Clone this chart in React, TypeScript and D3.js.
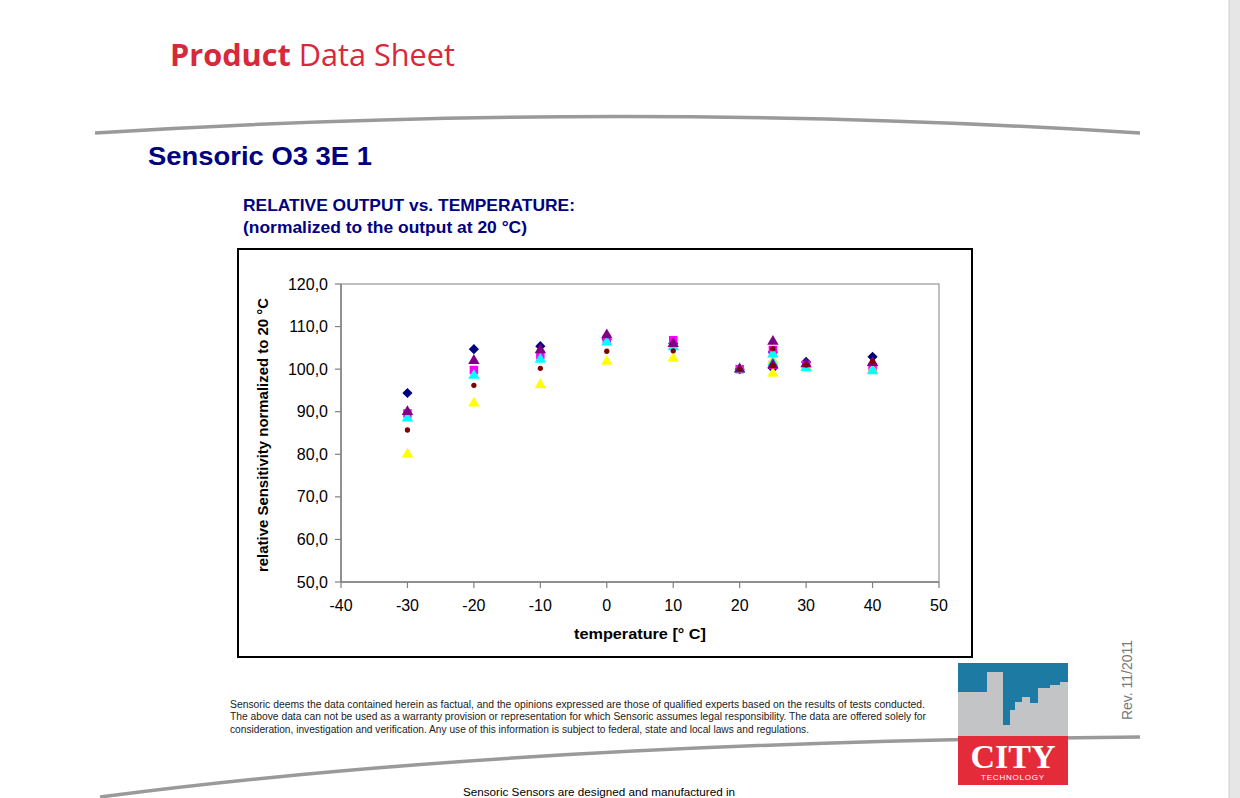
import React from "react";
import * as d3 from "d3";

// temperatures (°C); 25 °C was measured twice
const temps = [-30, -20, -10, 0, 10, 20, 25, 25, 30, 40];

const navyDiamond = [94.4, 104.7, 105.4, 107.0, 106.0, 100.0, 104.0, 100.2, 101.7, 102.9];
const magentaSquare = [89.6, 99.8, 103.3, 107.0, 106.8, 100.0, 104.5, 101.0, 101.0, 100.5];
const yellowTriangle = [80.0, 92.0, 96.3, 101.8, 102.5, 100.0, 102.0, 99.0, 100.5, 99.8];
const cyanTriangle = [88.5, 98.5, 102.3, 106.3, 105.2, 100.0, 103.5, 101.5, 100.3, 99.6];
const purpleTriangle = [90.0, 102.0, 104.5, 108.0, 106.0, 100.0, 106.5, 101.0, 101.2, 101.5];
const darkredCircle = [85.7, 96.2, 100.2, 104.2, 104.3, 100.0, 104.8, 100.8, 101.0, 101.8];

const xTicks = [-40, -30, -20, -10, 0, 10, 20, 30, 40, 50];
const yTicks = [50, 60, 70, 80, 90, 100, 110, 120];

const series = [
  { name: "s1", values: navyDiamond, color: "#000080", shape: "diamond" },
  { name: "s2", values: magentaSquare, color: "#ff00ff", shape: "square" },
  { name: "s3", values: yellowTriangle, color: "#ffff00", shape: "triangle" },
  { name: "s4", values: cyanTriangle, color: "#00ffff", shape: "triangle" },
  { name: "s5", values: purpleTriangle, color: "#800080", shape: "triangle" },
  { name: "s6", values: darkredCircle, color: "#800000", shape: "circle" },
];

const symbolFor: Record<string, [d3.SymbolType, number]> = {
  diamond: [d3.symbolDiamond2, 66],
  square: [d3.symbolSquare, 72],
  triangle: [d3.symbolTriangle, 56],
  circle: [d3.symbolCircle, 22],
};

export default function App() {
  const W = 1240, H = 798;
  const plot = { x0: 341, x1: 939, y0: 284, y1: 582 };
  const x = d3.scaleLinear().domain([-40, 50]).range([plot.x0, plot.x1]);
  const y = d3.scaleLinear().domain([50, 120]).range([plot.y1, plot.y0]);
  const fmt = (v: number) => d3.format(".1f")(v).replace(".", ",");
  const font = "Liberation Sans, Arial, sans-serif";

  const topArc = "M95,133 Q620,100 1140,133";
  const bottomArc = "M100,797 Q520,742 1140,737";

  return (
    <svg width={W} height={H} style={{ position: "absolute", left: 0, top: 0, background: "#fff" }} fontFamily={font}>
      <rect x={0} y={0} width={W} height={H} fill="#fff" />
      <rect x={1229} y={0} width={11} height={H} fill="#e6e6e6" />
      <line x1={1229} y1={0} x2={1229} y2={H} stroke="#cfcfcf" strokeWidth={1} />

      {/* header */}
      <text x={170} y={66} fontSize={31} fill="#d8283b" fontFamily="Open Sans, Lato, sans-serif" textLength={285} lengthAdjust="spacingAndGlyphs">
        <tspan fontWeight="bold">Product</tspan>
        <tspan> Data Sheet</tspan>
      </text>
      <path d={topArc} fill="none" stroke="#9a9a9a" strokeWidth={3.5} />
      <text x={148} y={165} fontSize={25} fontWeight="bold" fill="#000080" textLength={224} lengthAdjust="spacingAndGlyphs">Sensoric O3 3E 1</text>

      <text x={243} y={211} fontSize={16.5} fontWeight="bold" fill="#000080" textLength={332} lengthAdjust="spacingAndGlyphs">RELATIVE OUTPUT vs. TEMPERATURE:</text>
      <text x={243} y={233} fontSize={16.5} fontWeight="bold" fill="#000080" textLength={284} lengthAdjust="spacingAndGlyphs">(normalized to the output at 20 °C)</text>

      {/* chart frame */}
      <rect x={238} y={249} width={734} height={408} fill="#fff" stroke="#000" strokeWidth={2} />
      <rect x={plot.x0} y={plot.y0} width={plot.x1 - plot.x0} height={plot.y1 - plot.y0} fill="#fff" stroke="#808080" strokeWidth={1} />

      {/* y axis */}
      <line x1={plot.x0} y1={plot.y0} x2={plot.x0} y2={plot.y1} stroke="#808080" strokeWidth={1.5} />
      {yTicks.map((t) => (
        <g key={"y" + t}>
          <line x1={plot.x0 - 6} x2={plot.x0} y1={y(t)} y2={y(t)} stroke="#808080" strokeWidth={1.2} />
          <text x={plot.x0 - 13} y={y(t) + 5.5} fontSize={16} textAnchor="end" fill="#000">{fmt(t)}</text>
        </g>
      ))}
      {/* x axis */}
      <line x1={plot.x0} y1={plot.y1} x2={plot.x1} y2={plot.y1} stroke="#808080" strokeWidth={1.5} />
      {xTicks.map((t) => (
        <g key={"x" + t}>
          <line x1={x(t)} x2={x(t)} y1={plot.y1} y2={plot.y1 + 6} stroke="#808080" strokeWidth={1.2} />
          <text x={x(t)} y={plot.y1 + 29} fontSize={16} textAnchor="middle" fill="#000">{t}</text>
        </g>
      ))}
      <text x={640} y={639} fontSize={15.5} fontWeight="bold" textAnchor="middle" fill="#000" textLength={132} lengthAdjust="spacingAndGlyphs">temperature [° C]</text>
      <text transform={`translate(268,${(plot.y0 + plot.y1) / 2 + 2}) rotate(-90)`} fontSize={15} fontWeight="bold" textAnchor="middle" fill="#000" textLength={274} lengthAdjust="spacingAndGlyphs">
        relative Sensitivity normalized to 20 °C
      </text>

      {/* markers */}
      {series.map((s) => {
        const [type, size] = symbolFor[s.shape];
        const p = d3.symbol().type(type).size(size)() as string;
        return (
          <g key={s.name}>
            {s.values.map((v, i) => (
              <path key={i} d={p} transform={`translate(${x(temps[i])},${y(v)})`} fill={s.color} />
            ))}
          </g>
        );
      })}

      {/* disclaimer */}
      <g fontSize={10} fill="#222">
        <text x={230} y={708} textLength={695} lengthAdjust="spacingAndGlyphs">Sensoric deems the data contained herein as factual, and the opinions expressed are those of qualified experts based on the results of tests conducted.</text>
        <text x={230} y={720} textLength={696} lengthAdjust="spacingAndGlyphs">The above data can not be used as a warranty provision or representation for which Sensoric assumes legal responsibility. The data are offered solely for</text>
        <text x={230} y={733} textLength={579} lengthAdjust="spacingAndGlyphs">consideration, investigation and verification. Any use of this information is subject to federal, state and local laws and regulations.</text>
      </g>
      <path d={bottomArc} fill="none" stroke="#9a9a9a" strokeWidth={3.5} />
      <text x={599} y={796} fontSize={11.7} textAnchor="middle" fill="#000">Sensoric Sensors are designed and manufactured in</text>

      {/* logo */}
      <g>
        <rect x={958} y={663} width={110} height={73} fill="#1d7ba3" />
        <path d="M958,692 L987,692 L987,672 L1003,672 L1003,725 L1010,725 L1010,710 L1015,710 L1015,702 L1022,702 L1022,697 L1030,697 L1030,703 L1038,703 L1038,688 L1050,688 L1050,685 L1060,685 L1060,682 L1068,682 L1068,736 L958,736 Z" fill="#c2c4c6" />
        <rect x={958} y={736} width={110} height={49} fill="#e42b3a" />
        <text x={1013} y={768} fontSize={34} fontWeight="bold" textAnchor="middle" fill="#fff" fontFamily="Liberation Serif, DejaVu Serif, serif">CITY</text>
        <text x={1013} y={780} fontSize={8} textAnchor="middle" fill="#fff" letterSpacing={0.8}>TECHNOLOGY</text>
      </g>
      <text transform="translate(1132,680) rotate(-90)" fontSize={14} textAnchor="middle" fill="#777">Rev.  11/2011</text>
    </svg>
  );
}
